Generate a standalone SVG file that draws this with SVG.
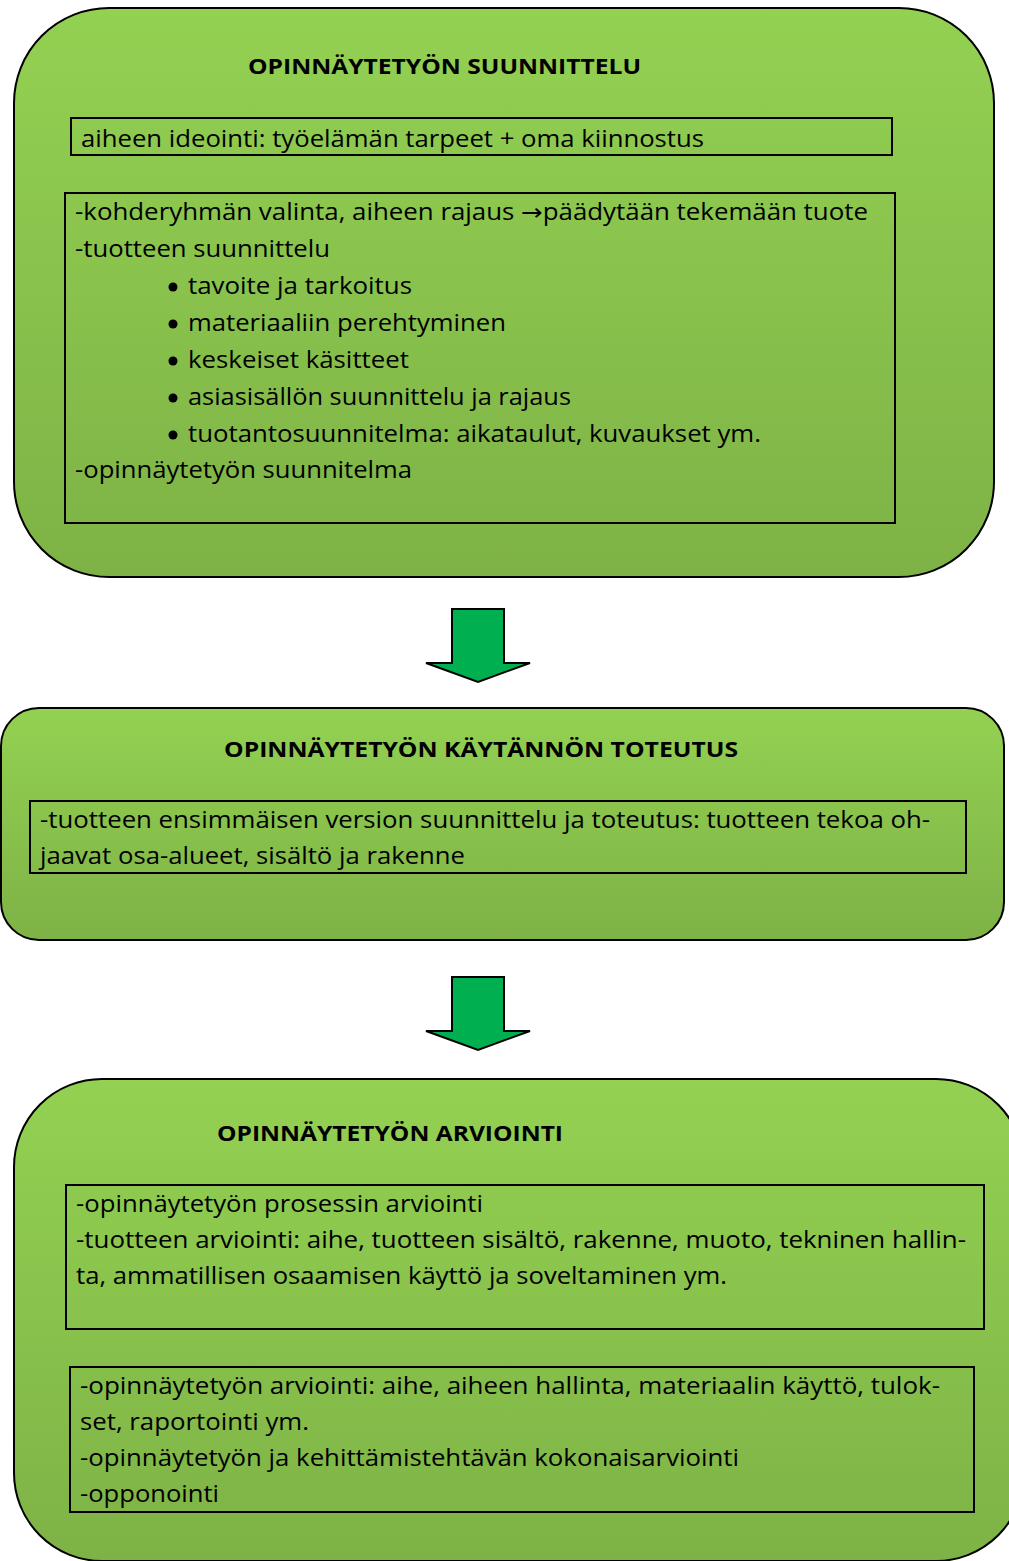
<svg xmlns="http://www.w3.org/2000/svg" width="1009" height="1561" viewBox="0 0 1009 1561">
<style>
.panel{stroke:#000;stroke-width:2;fill:url(#g)}
.inner{fill:none;stroke:#000;stroke-width:2}
.t{font-family:"Open Sans","Liberation Sans",sans-serif;font-size:23px;fill:#000}
.h{font-family:"Open Sans","Liberation Sans",sans-serif;font-size:22px;font-weight:bold;fill:#000}
.sym{font-family:"DejaVu Sans",sans-serif}
.arrow{fill:#00b050;stroke:#000;stroke-width:2;stroke-linejoin:miter}
</style>
<defs>
<linearGradient id="g" x1="0" y1="0" x2="0" y2="1">
<stop offset="0" stop-color="#93d152"/>
<stop offset="1" stop-color="#7eb246"/>
</linearGradient>
</defs>
<rect width="1009" height="1561" fill="#fff"/>
<g id="node-suunnittelu">
<rect class="panel" x="14" y="8" width="980" height="569" rx="95" ry="95"/>
<text class="h" x="248" y="74" textLength="393" lengthAdjust="spacingAndGlyphs">OPINNÄYTETYÖN SUUNNITTELU</text>
<rect class="inner" x="71" y="118" width="821" height="37"/>
<text class="t" x="81" y="147" textLength="623" lengthAdjust="spacingAndGlyphs">aiheen ideointi: työelämän tarpeet + oma kiinnostus</text>
<rect class="inner" x="65" y="193" width="830" height="330"/>
<text class="t" x="75" y="220" textLength="793" lengthAdjust="spacingAndGlyphs">-kohderyhmän valinta, aiheen rajaus <tspan class="sym">→</tspan>päädytään tekemään tuote</text>
<text class="t" x="75" y="257" textLength="255" lengthAdjust="spacingAndGlyphs">-tuotteen suunnittelu</text>
<g fill="#000">
<circle cx="173" cy="287" r="4.5"/>
<circle cx="173" cy="324" r="4.5"/>
<circle cx="173" cy="361" r="4.5"/>
<circle cx="173" cy="398" r="4.5"/>
<circle cx="173" cy="435" r="4.5"/>
</g>
<text class="t" x="188" y="294" textLength="224" lengthAdjust="spacingAndGlyphs">tavoite ja tarkoitus</text>
<text class="t" x="188" y="331" textLength="318" lengthAdjust="spacingAndGlyphs">materiaaliin perehtyminen</text>
<text class="t" x="188" y="368" textLength="221" lengthAdjust="spacingAndGlyphs">keskeiset käsitteet</text>
<text class="t" x="188" y="405" textLength="383" lengthAdjust="spacingAndGlyphs">asiasisällön suunnittelu ja rajaus</text>
<text class="t" x="188" y="442" textLength="573" lengthAdjust="spacingAndGlyphs">tuotantosuunnitelma: aikataulut, kuvaukset ym.</text>
<text class="t" x="75" y="478" textLength="337" lengthAdjust="spacingAndGlyphs">-opinnäytetyön suunnitelma</text>
</g>
<g id="node-toteutus">
<rect class="panel" x="1" y="708" width="1003" height="232" rx="38" ry="38"/>
<text class="h" x="224" y="757" textLength="514" lengthAdjust="spacingAndGlyphs">OPINNÄYTETYÖN KÄYTÄNNÖN TOTEUTUS</text>
<rect class="inner" x="30" y="801" width="936" height="72"/>
<text class="t" x="40" y="828" textLength="890" lengthAdjust="spacingAndGlyphs">-tuotteen ensimmäisen version suunnittelu ja toteutus: tuotteen tekoa oh-</text>
<text class="t" x="40" y="864" textLength="425" lengthAdjust="spacingAndGlyphs">jaavat osa-alueet, sisältö ja rakenne</text>
</g>
<g id="node-arviointi">
<rect class="panel" x="14" y="1079" width="1010" height="482" rx="88" ry="88"/>
<text class="h" x="217" y="1141" textLength="346" lengthAdjust="spacingAndGlyphs">OPINNÄYTETYÖN ARVIOINTI</text>
<rect class="inner" x="66" y="1185" width="918" height="144"/>
<text class="t" x="76" y="1212" textLength="407" lengthAdjust="spacingAndGlyphs">-opinnäytetyön prosessin arviointi</text>
<text class="t" x="76" y="1248" textLength="890" lengthAdjust="spacingAndGlyphs">-tuotteen arviointi: aihe, tuotteen sisältö, rakenne, muoto, tekninen hallin-</text>
<text class="t" x="76" y="1284" textLength="651" lengthAdjust="spacingAndGlyphs">ta, ammatillisen osaamisen käyttö ja soveltaminen ym.</text>
<rect class="inner" x="70" y="1367" width="904" height="145"/>
<text class="t" x="80" y="1394" textLength="860" lengthAdjust="spacingAndGlyphs">-opinnäytetyön arviointi: aihe, aiheen hallinta, materiaalin käyttö, tulok-</text>
<text class="t" x="80" y="1430" textLength="229" lengthAdjust="spacingAndGlyphs">set, raportointi ym.</text>
<text class="t" x="80" y="1466" textLength="659" lengthAdjust="spacingAndGlyphs">-opinnäytetyön ja kehittämistehtävän kokonaisarviointi</text>
<text class="t" x="80" y="1502" textLength="139" lengthAdjust="spacingAndGlyphs">-opponointi</text>
</g>
<g id="connectors">
<path class="arrow" d="M452,609 L504,609 L504,663 L530,663 L478,682 L426,663 L452,663 Z"/>
<path class="arrow" d="M452,977 L504,977 L504,1031 L530,1031 L478,1050 L426,1031 L452,1031 Z"/>
</g>
</svg>
